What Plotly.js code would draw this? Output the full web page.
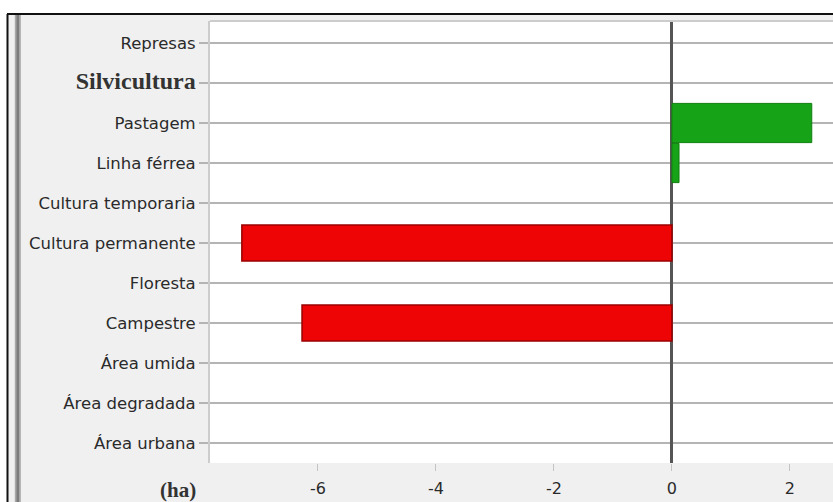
<!DOCTYPE html>
<html>
<head>
<meta charset="utf-8">
<script src="https://cdn.plot.ly/plotly-3.0.1.min.js"></script>
<style>html,body{margin:0;padding:0;background:#fff;}#chart{width:833px;height:502px;}</style>
</head>
<body>
<div id="chart"></div>
<script>
// ---- data ----
const categories = ["Área urbana","Área degradada","Área umida","Campestre","Floresta",
  "Cultura permanente","Cultura temporaria","Linha férrea","Pastagem","Silvicultura","Represas"];
const tickLabels = ["Área urbana","Área degradada","Área umida","Campestre","Floresta",
  "Cultura permanente","Cultura temporaria","Linha férrea","Pastagem",
  "<b><span style=\"font-family:Liberation Serif;font-size:24px;fill:#333\">Silvicultura</span></b>","Represas"];
const gainCategories = ["Linha férrea","Pastagem"];
const gainValues = [0.12, 2.37];
const lossCategories = ["Cultura permanente","Campestre"];
const lossValues = [-7.29, -6.27];
const xTickValues = [-6,-4,-2,0,2];
const xTickText = ["-6","-4","-2","0","2"];
const unitLabel = "(ha)";

// ---- layout helpers (pixel -> paper) ----
const W = 833, H = 502, L = 210, R = 0, T = 21, B = 39;
const pw = W - L - R, ph = H - T - B;
const px = x => (x - L) / pw;
const py = y => (H - B - y) / ph;

const traces = [
  {type:"bar", orientation:"h", y: gainCategories, x: gainValues, width: 0.98,
   marker:{color:"#17a317", line:{color:"#0f7f0f", width:1}}, hoverinfo:"x+y"},
  {type:"bar", orientation:"h", y: lossCategories, x: lossValues, width: 0.9,
   marker:{color:"#ee0404", line:{color:"#9a0000", width:1.5}}, hoverinfo:"x+y"}
];

const layout = {
  width: W, height: H,
  margin:{l:L, r:R, t:T, b:B, pad:0},
  paper_bgcolor:"#f0f0f0", plot_bgcolor:"#ffffff",
  showlegend:false, barmode:"overlay",
  font:{family:"DejaVu Sans, sans-serif", size:16.5, color:"#2a2a2a"},
  xaxis:{range:[-7.83, 2.73], tickmode:"array", tickvals:xTickValues, ticktext:xTickText,
    showgrid:false, zeroline:true, zerolinecolor:"#555555", zerolinewidth:3,
    ticks:"outside", ticklen:7, tickcolor:"#c4c4c4", tickwidth:1,
    ticklabelstandoff:4, showline:false,
    tickfont:{family:"DejaVu Sans, sans-serif", size:16, color:"#2a2a2a"}},
  yaxis:{type:"category", categoryorder:"array", categoryarray:categories,
    range:[-0.5, 10.55], tickmode:"array", tickvals:categories, ticktext:tickLabels,
    showgrid:true, gridcolor:"#b4b4b4", gridwidth:1.5,
    ticks:"outside", ticklen:9, tickcolor:"#b4b4b4", tickwidth:1.5,
    showline:true, linecolor:"#cccccc", linewidth:2, zeroline:false,
    tickfont:{family:"DejaVu Sans, sans-serif", size:16.5, color:"#2a2a2a"}},
  shapes:[
    // plot top border
    {type:"line", xref:"paper", yref:"paper", x0:0, x1:1, y0:1, y1:1, line:{color:"#cccccc", width:2}},
    // white outside the frame
    {type:"rect", xref:"paper", yref:"paper", x0:px(-5), x1:px(7), y0:py(510), y1:py(-5), fillcolor:"#ffffff", line:{width:0}},
    {type:"rect", xref:"paper", yref:"paper", x0:px(-5), x1:px(840), y0:py(13), y1:py(-5), fillcolor:"#ffffff", line:{width:0}},
    // black frame
    {type:"line", xref:"paper", yref:"paper", x0:px(7.5), x1:px(7.5), y0:py(14), y1:py(505), line:{color:"#111", width:2}},
    {type:"line", xref:"paper", yref:"paper", x0:px(7), x1:px(840), y0:py(14), y1:py(14), line:{color:"#111", width:2}},
    // gray double rule on the left
    {type:"line", xref:"paper", yref:"paper", x0:px(17.8), x1:px(17.8), y0:py(15), y1:py(505), line:{color:"#a8a8a8", width:6}},
    {type:"line", xref:"paper", yref:"paper", x0:px(17.8), x1:px(17.8), y0:py(15), y1:py(505), line:{color:"#7c7c7c", width:2.5}}
  ],
  annotations:[
    {xref:"paper", yref:"paper", x:px(198), y:py(490), xanchor:"right", yanchor:"middle",
     text:"<b>"+unitLabel+"</b>", showarrow:false,
     font:{family:"Liberation Serif, serif", size:21, color:"#333"}}
  ]
};

Plotly.newPlot("chart", traces, layout, {staticPlot:true, displayModeBar:false});
</script>
</body>
</html>
